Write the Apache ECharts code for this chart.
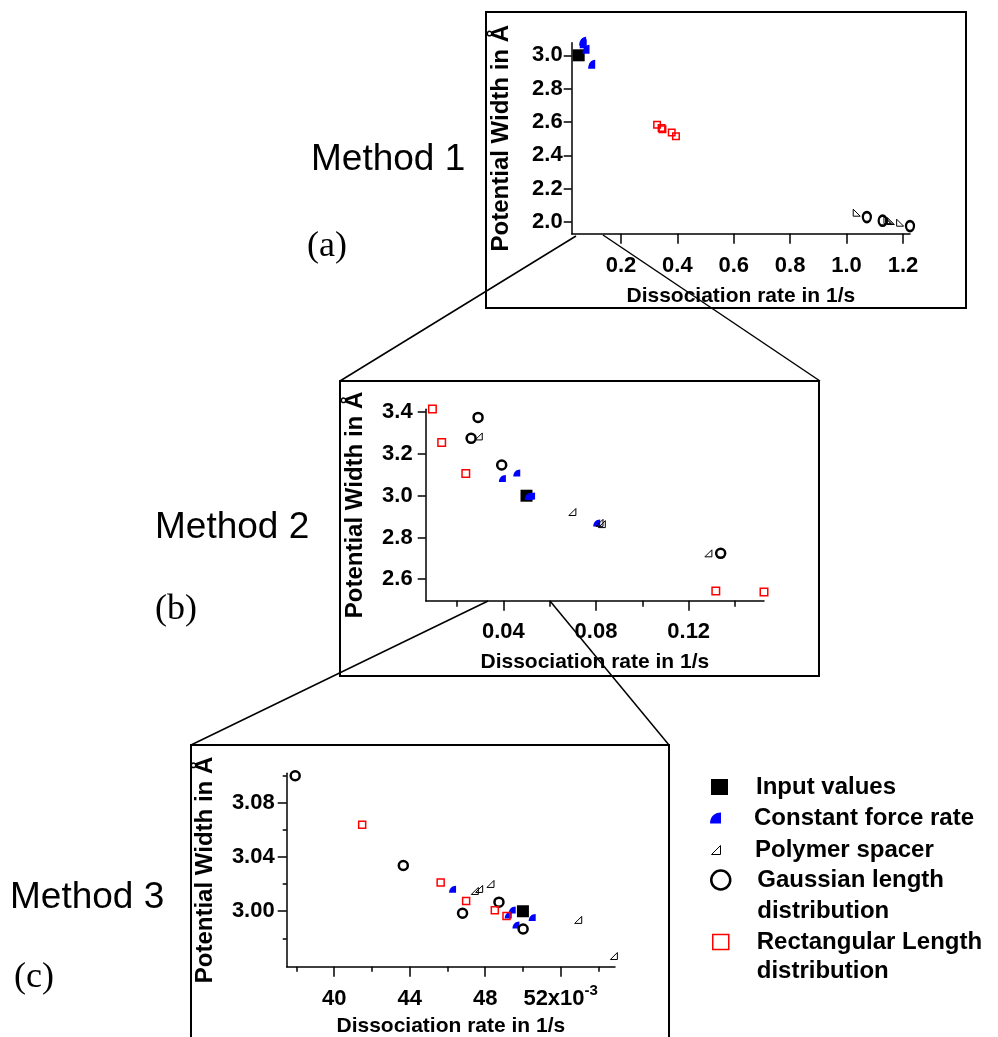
<!DOCTYPE html>
<html><head><meta charset="utf-8">
<script src="https://cdn.jsdelivr.net/npm/echarts@6/dist/echarts.min.js"></script>
<style>html,body{margin:0;padding:0;background:#fff}#c{width:998px;height:1037px}</style>
</head><body><div id="c"></div>
<script>
// ---------- Panel (a): Method 1 ----------
const inputA   = [[0.05, 3.0]];
const forceA   = [[0.064, 3.085], [0.066, 3.07], [0.076, 3.036], [0.096, 2.946]];
const polymerA = [[1.036, 2.056], [1.145, 2.011], [1.151, 2.008], [1.157, 2.006], [1.190, 1.996]];
const gaussA   = [[1.072, 2.030], [1.128, 2.008], [1.225, 1.976]];
const rectA    = [[0.328, 2.584], [0.344, 2.564], [0.347, 2.556], [0.380, 2.537], [0.395, 2.515]];
const xTicksA  = [0.2, 0.4, 0.6, 0.8, 1.0, 1.2];
const yTicksA  = [2.0, 2.2, 2.4, 2.6, 2.8, 3.0];

// ---------- Panel (b): Method 2 ----------
const inputB   = [[0.05, 3.0]];
const forceB   = [[0.0396, 3.083], [0.0458, 3.109], [0.0507, 2.997], [0.0515, 2.998], [0.0522, 2.999], [0.0803, 2.869]];
const polymerB = [[0.0294, 3.284], [0.0698, 2.922], [0.0815, 2.870], [0.0825, 2.864], [0.1285, 2.724]];
const gaussB   = [[0.0291, 3.375], [0.0261, 3.275], [0.0393, 3.147], [0.1338, 2.724]];
const rectB    = [[0.0094, 3.415], [0.0134, 3.255], [0.0238, 3.107], [0.1317, 2.543], [0.1525, 2.539]];
const xTicksB      = [0.04, 0.08, 0.12];
const xMinorTicksB = [0.02, 0.06, 0.10, 0.14];
const yTicksB      = [2.6, 2.8, 3.0, 3.2, 3.4];

// ---------- Panel (c): Method 3 ----------
const inputC   = [[0.05, 3.0]];
const forceC   = [[0.04627, 3.0163], [0.04943, 3.0010], [0.04922, 2.9973], [0.04963, 2.9899], [0.05049, 2.9953]];
const polymerC = [[0.04745, 3.0150], [0.04768, 3.0165], [0.04828, 3.0202], [0.05293, 2.9936], [0.05482, 2.9669]];
const gaussC   = [[0.03793, 3.1002], [0.04366, 3.0338], [0.04680, 2.9985], [0.04873, 3.0067], [0.05001, 2.9869]];
const rectC    = [[0.04148, 3.0639], [0.04564, 3.0212], [0.04699, 3.0076], [0.04851, 3.0007], [0.04913, 2.9965]];
const xTicksC      = [0.040, 0.044, 0.048, 0.052];
const xMinorTicksC = [0.038, 0.042, 0.046, 0.050, 0.054];
const yTicksC      = [3.00, 3.04, 3.08];
const yMinorTicksC = [2.98, 3.02, 3.06, 3.10];

const seriesNames = ['Input values', 'Constant force rate', 'Polymer spacer', 'Gaussian length distribution', 'Rectangular Length distribution'];

const FONT = 'Liberation Sans';
const BLUE = '#0000ff', RED = '#ff0000', BLACK = '#000000';
const WEDGE = 'path://M0,10 C0,4 4,0 10,0 L10,10 Z';
const TRI_R = 'path://M10,0 L10,10 L0,10 Z';
const TRI_L = 'path://M0,0 L0,10 L10,10 Z';
const CLEAR = 'rgba(255,255,255,0)';

const labelStyle = { color: BLACK, fontFamily: FONT, fontWeight: 'bold', fontSize: 22 };
const xNameStyle = { color: BLACK, fontFamily: FONT, fontWeight: 'bold', fontSize: 21 };
const yNameStyle = { color: BLACK, fontFamily: FONT, fontWeight: 'bold', fontSize: 24 };
const lineSt = { color: BLACK, width: 1.5 };

function mainAxis(gi, pos, min, max, ticks, fmt, margin, tickLen, name, nameGap, nameStyle, extraLabel) {
  return {
    type: 'value', gridIndex: gi, position: pos, min: min, max: max,
    axisLine: { show: true, onZero: false, lineStyle: lineSt },
    axisTick: { show: true, inside: false, length: tickLen, customValues: ticks, lineStyle: lineSt },
    axisLabel: Object.assign({ customValues: ticks, formatter: fmt, margin: margin }, labelStyle, extraLabel || {}),
    splitLine: { show: false },
    name: name, nameLocation: 'middle', nameGap: nameGap, nameTextStyle: nameStyle
  };
}
function minorAxis(gi, pos, min, max, ticks, tickLen) {
  return {
    type: 'value', gridIndex: gi, position: pos, offset: 0, min: min, max: max,
    axisLine: { show: false, onZero: false },
    axisTick: { show: true, inside: false, length: tickLen, customValues: ticks, lineStyle: lineSt },
    axisLabel: { show: false },
    splitLine: { show: false }
  };
}

const xName = 'Dissociation rate in 1/s';
const yName = 'Potential Width in Å';

const xAxes = [
  mainAxis(0, 'bottom', 0.0252, 1.225, xTicksA, v => v.toFixed(1), 21, 10, xName, 52, xNameStyle),
  mainAxis(1, 'bottom', 0.0065, 0.1525, xTicksB, v => v.toFixed(2), 20, 10, xName, 51, xNameStyle),
  minorAxis(1, 'bottom', 0.0065, 0.1525, xMinorTicksB, 6),
  mainAxis(2, 'bottom', 0.03748, 0.05488, xTicksC, v => {
    const k = Math.round(v * 1000);
    return k === 52 ? '{a|52x10}{s|-3}' : '{a|' + k + '}';
  }, 17, 10, xName, 49, xNameStyle, {
    rich: {
      a: { fontFamily: FONT, fontWeight: 'bold', fontSize: 22, lineHeight: 26, verticalAlign: 'bottom', color: BLACK },
      s: { fontFamily: FONT, fontWeight: 'bold', fontSize: 15, lineHeight: 14, padding: [0, 0, 12, 0], verticalAlign: 'top', color: BLACK }
    }
  }),
  minorAxis(2, 'bottom', 0.03748, 0.05488, xMinorTicksC, 5)
];
const yAxes = [
  mainAxis(0, 'left', 1.93, 3.0756, yTicksA, v => v.toFixed(1), 9, 8, yName, 58, yNameStyle),
  mainAxis(1, 'left', 2.497, 3.414, yTicksB, v => v.toFixed(1), 13, 8, yName, 58, yNameStyle),
  mainAxis(2, 'left', 2.959, 3.102, yTicksC, v => v.toFixed(2), 12, 9, yName, 69, yNameStyle),
  minorAxis(2, 'left', 2.959, 3.102, yMinorTicksC, 4)
];

const grids = [
  { left: 571.7, top: 42.7, width: 338.3, height: 191, outerBoundsMode: 'none' },
  { left: 425.7, top: 409.3, width: 338.3, height: 191.4, outerBoundsMode: 'none' },
  { left: 286.7, top: 773.3, width: 328.3, height: 193.4, outerBoundsMode: 'none' }
];

function panelSeries(xi, yi, d, sz, tri) {
  const base = { type: 'scatter', xAxisIndex: xi, yAxisIndex: yi, clip: false, emphasis: { disabled: true } };
  return [
    Object.assign({}, base, { name: seriesNames[0], data: d[0], symbol: 'rect', symbolSize: 12,
      itemStyle: { color: BLACK, opacity: 1 } }),
    Object.assign({}, base, { name: seriesNames[1], data: d[1], symbol: WEDGE, symbolSize: sz.wedge,
      itemStyle: { color: BLUE, opacity: 1 } }),
    Object.assign({}, base, { name: seriesNames[2], data: d[2], symbol: tri, symbolSize: 7,
      itemStyle: { color: CLEAR, borderColor: BLACK, borderWidth: 1, opacity: 1 } }),
    Object.assign({}, base, { name: seriesNames[3], data: d[3], symbol: 'circle', symbolSize: sz.circ,
      itemStyle: { color: CLEAR, borderColor: BLACK, borderWidth: 2.5, opacity: 1 } }),
    Object.assign({}, base, { name: seriesNames[4], data: d[4], symbol: 'rect', symbolSize: sz.rect,
      itemStyle: { color: CLEAR, borderColor: RED, borderWidth: 1.5, opacity: 1 } })
  ];
}

const series = [].concat(
  panelSeries(0, 0, [inputA, forceA, polymerA, gaussA, rectA], { wedge: [7, 9], circ: [8, 10], rect: 6.5 }, TRI_L),
  panelSeries(1, 1, [inputB, forceB, polymerB, gaussB, rectB], { wedge: [7, 7], circ: 9, rect: 7.5 }, TRI_R),
  panelSeries(3, 2, [inputC, forceC, polymerC, gaussC, rectC], { wedge: [7, 7], circ: 9, rect: 7 }, TRI_R)
);

const legTxt = { color: BLACK, fontFamily: FONT, fontWeight: 'bold', fontSize: 24 };
const legendText = {
  'Gaussian length distribution': ' \nGaussian length\ndistribution',
  'Rectangular Length distribution': ' \nRectangular Length\ndistribution'
};
function oneLegend(name, icon, w, h, left, top, itemStyle, padLeft, lh) {
  return {
    show: true, orient: 'vertical', left: left, top: top, padding: 0, itemGap: 0,
    itemWidth: w, itemHeight: h, selectedMode: false,
    data: [{ name: name, icon: icon, itemStyle: itemStyle }],
    textStyle: Object.assign({ padding: [0, 0, 0, padLeft], lineHeight: lh }, legTxt),
    formatter: n => legendText[n] || n
  };
}
const legends = [
  oneLegend(seriesNames[0], 'rect', 17, 16, 711, 772, { color: BLACK, borderWidth: 0, opacity: 1 }, 23, 30),
  oneLegend(seriesNames[1], WEDGE, 15, 11, 710, 803, { color: BLUE, borderWidth: 0, opacity: 1 }, 26, 30),
  oneLegend(seriesNames[2], TRI_R, 12, 9, 711, 835, { color: CLEAR, borderColor: BLACK, borderWidth: 1, opacity: 1 }, 28, 30),
  oneLegend(seriesNames[3], 'circle', 19, 19, 710, 833.5, { color: CLEAR, borderColor: BLACK, borderWidth: 2.5, opacity: 1 }, 22, 31),
  oneLegend(seriesNames[4], 'rect', 16, 15, 712, 898.5, { color: CLEAR, borderColor: RED, borderWidth: 1.5, opacity: 1 }, 23, 29)
];

function box(x, y, w, h) {
  return { type: 'rect', z: 0, shape: { x: x, y: y, width: w, height: h }, style: { fill: 'none', stroke: BLACK, lineWidth: 2 } };
}
function seg(x1, y1, x2, y2) {
  return { type: 'line', z: 50, shape: { x1: x1, y1: y1, x2: x2, y2: y2 }, style: { stroke: BLACK, lineWidth: 1.5 } };
}
function txt(t, x, y, size, family) {
  return { type: 'text', z: 50, style: { text: t, x: x, y: y, fontSize: size, fontFamily: family, fill: BLACK, verticalAlign: 'middle', align: 'left' } };
}

const option = {
  backgroundColor: '#ffffff',
  animation: false,
  grid: grids,
  xAxis: xAxes,
  yAxis: yAxes,
  legend: legends,
  series: series,
  graphic: [
    box(486, 12, 480, 296),
    box(340, 381, 479, 295),
    box(191, 745, 478, 300),
    seg(576, 236, 340, 381),
    seg(603, 235, 820, 381),
    seg(488, 601, 191, 745),
    seg(550, 601, 669, 745),
    txt('Method 1', 311, 160, 37, FONT),
    txt('(a)', 307, 247, 36, 'Liberation Serif'),
    txt('Method 2', 155, 528, 37, FONT),
    txt('(b)', 155, 610, 36, 'Liberation Serif'),
    txt('Method 3', 10, 898, 37, FONT),
    txt('(c)', 14, 978, 36, 'Liberation Serif')
  ]
};

const chart = echarts.init(document.getElementById('c'), null, { renderer: 'canvas' });
chart.setOption(option);
</script>
</body></html>
